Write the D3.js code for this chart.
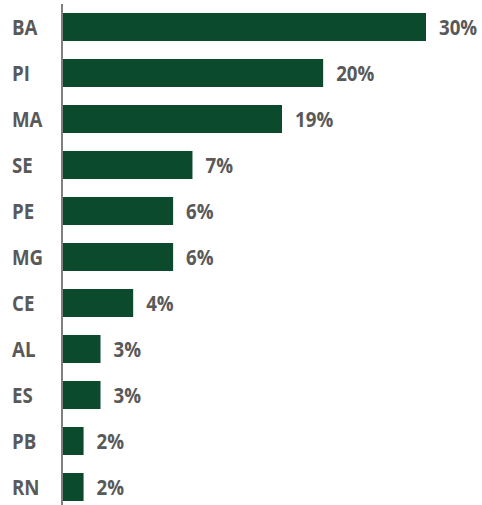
<!DOCTYPE html>
<html><head><meta charset="utf-8">
<script src="https://cdn.jsdelivr.net/npm/d3@7"></script>
<style>
html,body{margin:0;padding:0;background:#fff;}
svg{display:block;}
text{font-family:"Open Sans","Noto Sans",sans-serif;font-weight:bold;fill:#595959;}
</style></head>
<body>
<svg id="chart" width="482" height="505"></svg>
<script>
const categories = ["BA","PI","MA","SE","PE","MG","CE","AL","ES","PB","RN"];
// bar lengths as drawn (percentage units)
const barValues = [30, 21.5, 18.1, 10.7, 9.1, 9.1, 5.8, 3.1, 3.1, 1.7, 1.7];
const valueLabels = ["30%","20%","19%","7%","6%","6%","4%","3%","3%","2%","2%"];

const svg = d3.select("#chart");
const x = d3.scaleLinear().domain([0, 30]).range([63, 426]);
const y = d3.scaleBand().domain(categories).range([4, 510]).paddingInner(18/46).paddingOuter(9/46);

svg.selectAll("rect.bar").data(categories).join("rect")
  .attr("class","bar")
  .attr("x", x(0))
  .attr("y", d => y(d))
  .attr("width", (d,i) => x(barValues[i]) - x(0))
  .attr("height", y.bandwidth())
  .attr("fill", "#0b4a2c");

svg.append("line")
  .attr("x1", 62).attr("x2", 62).attr("y1", 4).attr("y2", 505)
  .attr("stroke", "#7f7f7f").attr("stroke-width", 2);

const sx = 0.85;
svg.selectAll("text.cat").data(categories).join("text")
  .attr("class","cat")
  .attr("transform", d => `translate(12,${y(d) + y.bandwidth()/2 + 8}) scale(${sx},1)`)
  .attr("font-size", 22)
  .text(d => d);

svg.selectAll("text.val").data(categories).join("text")
  .attr("class","val")
  .attr("transform", (d,i) => `translate(${x(barValues[i]) + 13},${y(d) + y.bandwidth()/2 + 8}) scale(${sx},1)`)
  .attr("font-size", 22)
  .text((d,i) => valueLabels[i]);
</script>
</body></html>
